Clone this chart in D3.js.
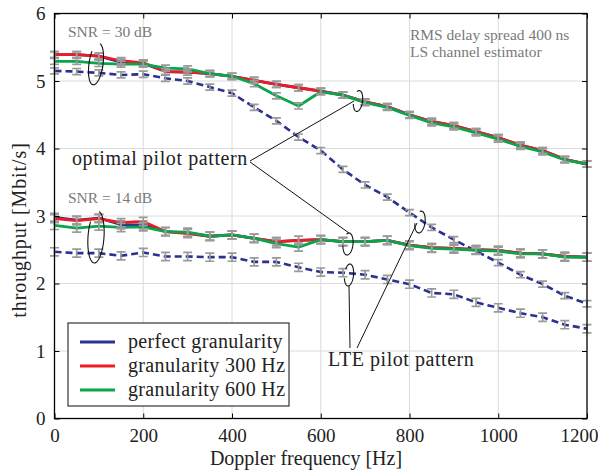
<!DOCTYPE html>
<html>
<head>
<meta charset="utf-8">
<script src="https://cdn.jsdelivr.net/npm/d3@7"></script>
<style>
  body { margin: 0; background: #fff; }
  text { font-family: "Liberation Serif", serif; }
</style>
</head>
<body>
<div id="chart"></div>
<script>
// Doppler frequency grid (Hz)
const freq = [0, 50, 100, 150, 200, 250, 300, 350, 400, 450, 500, 550, 600,
              650, 700, 750, 800, 850, 900, 950, 1000, 1050, 1100, 1150, 1200];

// SNR = 30 dB
const snr30Perfect = [5.39, 5.39, 5.37, 5.28, 5.26, 5.14, 5.13, 5.11, 5.07, 5.01, 4.95, 4.90, 4.85,
                      4.79, 4.69, 4.62, 4.50, 4.40, 4.34, 4.25, 4.16, 4.05, 3.97, 3.84, 3.77];
const snr30Gran300 = [5.39, 5.39, 5.37, 5.30, 5.27, 5.14, 5.13, 5.11, 5.07, 5.01, 4.95, 4.90, 4.85,
                      4.79, 4.69, 4.62, 4.50, 4.40, 4.34, 4.25, 4.16, 4.05, 3.97, 3.84, 3.77];
const snr30Gran600 = [5.29, 5.29, 5.26, 5.25, 5.25, 5.19, 5.18, 5.11, 5.07, 4.96, 4.78, 4.63, 4.84,
                      4.79, 4.68, 4.61, 4.49, 4.38, 4.32, 4.23, 4.14, 4.03, 3.95, 3.83, 3.77];
const snr30Lte     = [5.15, 5.14, 5.12, 5.09, 5.10, 5.04, 5.00, 4.91, 4.82, 4.61, 4.41, 4.17, 3.97,
                      3.69, 3.46, 3.28, 3.05, 2.83, 2.65, 2.48, 2.31, 2.13, 1.99, 1.82, 1.70];

// SNR = 14 dB
const snr14Perfect = [2.98, 2.94, 2.97, 2.87, 2.87, 2.77, 2.75, 2.70, 2.72, 2.67, 2.62, 2.64, 2.65,
                      2.62, 2.62, 2.64, 2.57, 2.53, 2.52, 2.50, 2.49, 2.45, 2.44, 2.40, 2.39];
const snr14Gran300 = [2.96, 2.93, 2.96, 2.90, 2.92, 2.77, 2.74, 2.70, 2.72, 2.67, 2.62, 2.64, 2.65,
                      2.62, 2.62, 2.64, 2.57, 2.53, 2.52, 2.50, 2.49, 2.45, 2.44, 2.40, 2.39];
const snr14Gran600 = [2.86, 2.82, 2.85, 2.83, 2.84, 2.77, 2.76, 2.70, 2.72, 2.67, 2.59, 2.54, 2.65,
                      2.62, 2.62, 2.64, 2.56, 2.52, 2.51, 2.49, 2.48, 2.44, 2.44, 2.39, 2.39];
const snr14Lte     = [2.47, 2.45, 2.45, 2.41, 2.46, 2.40, 2.40, 2.39, 2.39, 2.32, 2.32, 2.24, 2.17,
                      2.16, 2.13, 2.06, 1.99, 1.86, 1.84, 1.72, 1.64, 1.56, 1.50, 1.39, 1.33];

// half height of confidence intervals
const ci30 = 0.045;
const ci14 = 0.06;

const xTicks = [0, 200, 400, 600, 800, 1000, 1200];
const yTicks = [0, 1, 2, 3, 4, 5, 6];
const legendLabels = ["perfect granularity", "granularity 300 Hz", "granularity 600 Hz"];

const width = 598, height = 470;
const colBlue = "#2b3190", colRed = "#ec1c24", colGreen = "#0aa54b", colBar = "#9a9a9a";

const svg = d3.select("#chart").append("svg")
    .attr("width", width)
    .attr("height", height);

const x = d3.scaleLinear().domain([0, 1200]).range([54.5, 587]);
const y = d3.scaleLinear().domain([0, 6]).range([418.5, 13.5]);

// grid
svg.append("g").selectAll("line").data(xTicks.slice(1, -1)).join("line")
    .attr("x1", d => x(d)).attr("x2", d => x(d))
    .attr("y1", y(0)).attr("y2", y(6))
    .attr("stroke", "#dcdcdc").attr("stroke-width", 1);
svg.append("g").selectAll("line").data(yTicks.slice(1, -1)).join("line")
    .attr("x1", x(0)).attr("x2", x(1200))
    .attr("y1", d => y(d)).attr("y2", d => y(d))
    .attr("stroke", "#dcdcdc").attr("stroke-width", 1);

// series
const series = [
    { v: snr30Lte, c: colBlue, dash: "7,4", ci: ci30 },
    { v: snr14Lte, c: colBlue, dash: "7,4", ci: ci14 },
    { v: snr30Perfect, c: colBlue, ci: ci30 },
    { v: snr14Perfect, c: colBlue, ci: ci14 },
    { v: snr30Gran300, c: colRed, ci: ci30 },
    { v: snr14Gran300, c: colRed, ci: ci14 },
    { v: snr30Gran600, c: colGreen, ci: ci30 },
    { v: snr14Gran600, c: colGreen, ci: ci14 }
];

const line = d3.line().x((d, i) => x(freq[i])).y(d => y(d));

series.forEach(s => {
    svg.append("path")
        .attr("d", line(s.v))
        .attr("fill", "none")
        .attr("stroke", s.c)
        .attr("stroke-width", s.dash ? 2.6 : 2.8)
        .attr("stroke-dasharray", s.dash || null)
        .attr("stroke-linejoin", "round");
});

// error bars
series.forEach(s => {
    const g = svg.append("g").attr("stroke", colBar).attr("stroke-width", 1.7).attr("fill", "none");
    s.v.forEach((d, i) => {
        const cx = x(freq[i]);
        const y0 = y(d - s.ci), y1 = y(d + s.ci);
        g.append("path")
            .attr("d", `M${cx - 4.5},${y1}H${cx + 4.5}M${cx},${y1}V${y0}M${cx - 4.5},${y0}H${cx + 4.5}`);
    });
});

// axes box
svg.append("rect")
    .attr("x", x(0)).attr("y", y(6))
    .attr("width", x(1200) - x(0)).attr("height", y(0) - y(6))
    .attr("fill", "none").attr("stroke", "#000").attr("stroke-width", 1.3);

const xAxis = svg.append("g").attr("transform", `translate(0,${y(0)})`)
    .call(d3.axisBottom(x).tickValues(xTicks).tickSize(-5).tickPadding(10).tickFormat(d3.format("d")));
const xAxisTop = svg.append("g").attr("transform", `translate(0,${y(6)})`)
    .call(d3.axisTop(x).tickValues(xTicks).tickSize(-5).tickFormat(""));
const yAxis = svg.append("g").attr("transform", `translate(${x(0)},0)`)
    .call(d3.axisLeft(y).tickValues(yTicks).tickSize(-5).tickPadding(9).tickFormat(d3.format("d")));
const yAxisRight = svg.append("g").attr("transform", `translate(${x(1200)},0)`)
    .call(d3.axisRight(y).tickValues(yTicks).tickSize(-5).tickFormat(""));

[xAxis, xAxisTop, yAxis, yAxisRight].forEach(a => {
    a.select(".domain").remove();
    a.selectAll(".tick line").attr("stroke", "#000").attr("stroke-width", 1);
    a.selectAll(".tick text")
        .attr("fill", "#222")
        .style("font-family", "Liberation Serif, serif")
        .style("font-size", "19px");
});
// last label sits at the page edge
xAxis.selectAll(".tick text").filter(d => d === 1200).attr("text-anchor", "end").attr("x", 11);

// axis titles
svg.append("text")
    .attr("x", 306).attr("y", 465)
    .attr("text-anchor", "middle")
    .attr("fill", "#222")
    .style("font-size", "20px")
    .text("Doppler frequency [Hz]");
svg.append("text")
    .attr("transform", "translate(26,230) rotate(-90)")
    .attr("text-anchor", "middle")
    .attr("fill", "#222")
    .style("font-size", "20px")
    .style("letter-spacing", "0.9px")
    .text("throughput [Mbit/s]");

// grey notes
const notes = svg.append("g").attr("fill", "#7a7a7a").style("font-size", "15.5px");
notes.append("text").attr("x", 68).attr("y", 37).text("SNR = 30 dB");
notes.append("text").attr("x", 68).attr("y", 203).text("SNR = 14 dB");
notes.append("text").attr("x", 410).attr("y", 40).text("RMS delay spread 400 ns");
notes.append("text").attr("x", 410).attr("y", 57).text("LS channel estimator");

// open ellipses marking curve groups
function openEllipse(cx, cy, rx, ry, rot, a0, a1) {
    const pts = d3.range(a0, a1 + 1, 5).map(a => {
        const t = a * Math.PI / 180;
        return [rx * Math.cos(t), ry * Math.sin(t)];
    });
    svg.append("path")
        .attr("d", d3.line()(pts))
        .attr("transform", `translate(${cx},${cy}) rotate(${rot})`)
        .attr("fill", "none").attr("stroke", "#111").attr("stroke-width", 1.1);
}
openEllipse(96, 64, 7, 21, 8, -80, 215);
openEllipse(96, 237, 8, 26, 4, -80, 215);
openEllipse(358, 101, 4.5, 10.5, 8, -120, 160);
openEllipse(348, 244, 5, 11, 6, -120, 170);
openEllipse(349, 275, 4.5, 11, 6, -150, 160);
openEllipse(420, 222, 5, 11, 8, -110, 170);

// leader lines
const leaders = [
    [[250, 161], [354, 101]],
    [[250, 162], [349, 233]],
    [[350, 348], [349, 286]],
    [[357, 348], [417, 223]]
];
svg.append("g").selectAll("path").data(leaders).join("path")
    .attr("d", d => d3.line()(d))
    .attr("fill", "none").attr("stroke", "#111").attr("stroke-width", 1);

svg.append("text").attr("x", 72).attr("y", 165)
    .attr("fill", "#222").style("font-size", "20px").style("letter-spacing", "0.6px")
    .text("optimal pilot pattern");
svg.append("text").attr("x", 328).attr("y", 366)
    .attr("fill", "#222").style("font-size", "20px").style("letter-spacing", "0.55px")
    .text("LTE pilot pattern");

// legend
const legend = svg.append("g");
legend.append("rect")
    .attr("x", 68).attr("y", 323).attr("width", 221).attr("height", 83)
    .attr("fill", "#fff").attr("stroke", "#222").attr("stroke-width", 1.1);
legend.selectAll("line").data(legendLabels).join("line")
    .attr("x1", 80).attr("x2", 115)
    .attr("y1", (d, i) => 342 + i * 24).attr("y2", (d, i) => 342 + i * 24)
    .attr("stroke", (d, i) => [colBlue, colRed, colGreen][i])
    .attr("stroke-width", 2.8);
legend.selectAll("text").data(legendLabels).join("text")
    .attr("x", 128)
    .attr("y", (d, i) => 348 + i * 24)
    .attr("fill", "#222")
    .style("font-size", "20px")
    .style("letter-spacing", "0.35px")
    .text(d => d);
</script>
</body>
</html>
